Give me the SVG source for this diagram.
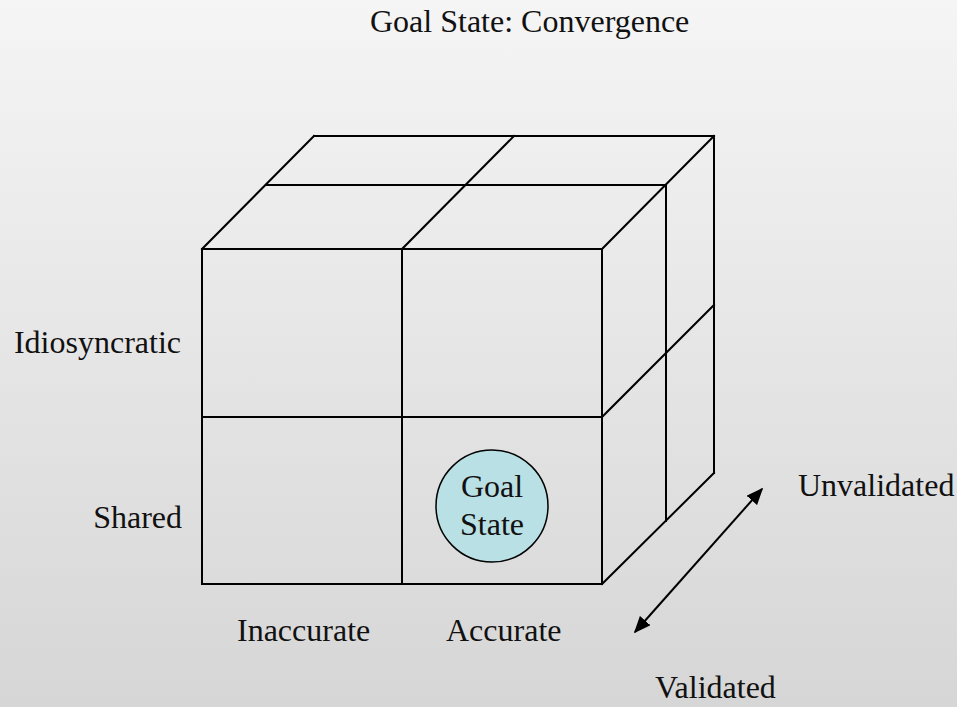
<svg xmlns="http://www.w3.org/2000/svg" width="957" height="707" viewBox="0 0 957 707">
  <defs>
    <linearGradient id="bg" x1="0" y1="0" x2="0" y2="1">
      <stop offset="0" stop-color="#f5f5f5"/>
      <stop offset="1" stop-color="#d6d6d6"/>
    </linearGradient>
    <marker id="ah" viewBox="0 0 10 10" refX="9" refY="5" markerWidth="17" markerHeight="14" markerUnits="userSpaceOnUse" orient="auto-start-reverse" preserveAspectRatio="none">
      <path d="M0,0 L10,5 L0,10 z" fill="#000"/>
    </marker>
  </defs>
  <style>
    .edge { stroke: #000; stroke-width: 2; fill: none; stroke-linecap: square; }
    .lbl { font-family: 'Liberation Serif', Tinos, 'Times New Roman', 'DejaVu Serif', serif; font-size: 32px; fill: #111; }
    .conn { stroke: #000; stroke-width: 2; fill: none; }
  </style>
  <rect x="0" y="0" width="957" height="707" fill="url(#bg)"/>

  <text class="lbl" x="370" y="32">Goal State: Convergence</text>

  <g id="cube">
    <rect class="edge" x="202" y="249" width="400" height="335"/>
    <line class="edge" x1="402" y1="249" x2="402" y2="584"/>
    <line class="edge" x1="202" y1="417" x2="602" y2="417"/>
    <line class="edge" x1="314" y1="136" x2="714" y2="136"/>
    <line class="edge" x1="266" y1="185" x2="666" y2="185"/>
    <line class="edge" x1="202" y1="249" x2="314" y2="136"/>
    <line class="edge" x1="402" y1="249" x2="514" y2="136"/>
    <line class="edge" x1="602" y1="249" x2="714" y2="136"/>
    <line class="edge" x1="714" y1="136" x2="714" y2="473"/>
    <line class="edge" x1="666" y1="185" x2="666" y2="521"/>
    <line class="edge" x1="602" y1="417" x2="714" y2="305"/>
    <line class="edge" x1="602" y1="584" x2="714" y2="473"/>
  </g>

  <g id="goal-state">
    <ellipse cx="492" cy="506" rx="56" ry="56" fill="#b9e0e4" stroke="#000" stroke-width="1.5"/>
    <text class="lbl" x="492" y="497" text-anchor="middle">Goal</text>
    <text class="lbl" x="492" y="535" text-anchor="middle">State</text>
  </g>

  <g id="labels">
    <text class="lbl" x="181" y="353" text-anchor="end">Idiosyncratic</text>
    <text class="lbl" x="182" y="528" text-anchor="end">Shared</text>
    <text class="lbl" x="237" y="641">Inaccurate</text>
    <text class="lbl" x="446" y="641">Accurate</text>
    <text class="lbl" x="798" y="496">Unvalidated</text>
    <text class="lbl" x="655" y="698">Validated</text>
  </g>

  <g id="connectors">
    <line class="conn" x1="635" y1="632" x2="762" y2="489" marker-start="url(#ah)" marker-end="url(#ah)"/>
  </g>
</svg>
